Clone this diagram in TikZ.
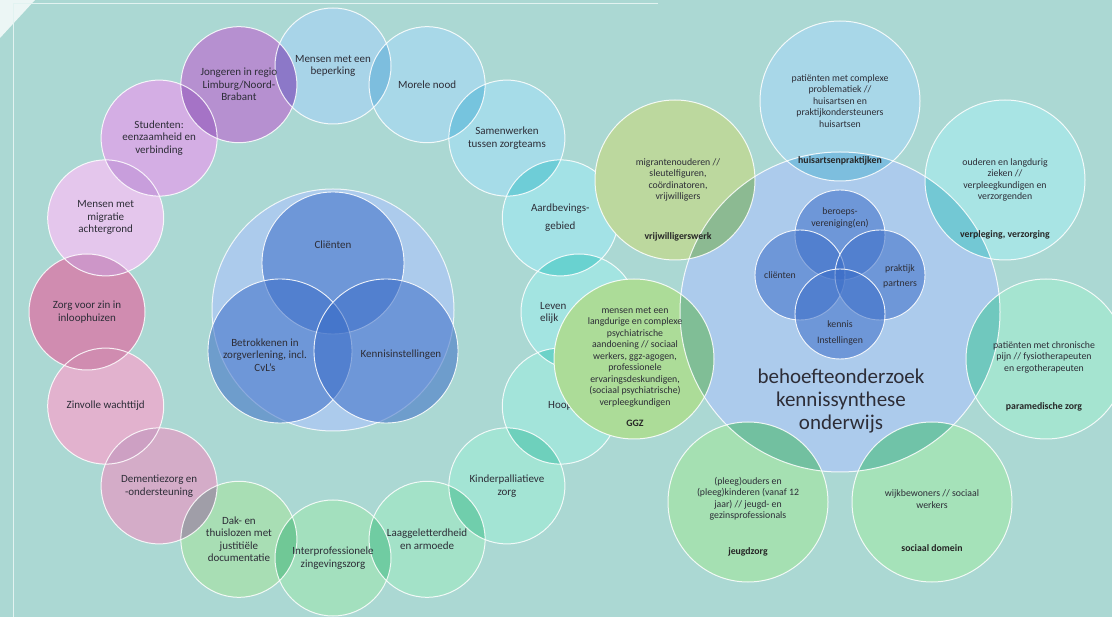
\documentclass[tikz,border=0pt]{standalone}
\usepackage{fontspec}
\setmainfont{Carlito}
\definecolor{bg}{RGB}{171,216,211}
\definecolor{corner}{RGB}{236,246,245}
\definecolor{frameline}{RGB}{226,243,241}
\definecolor{txt}{RGB}{45,45,55}
\definecolor{cMens}{RGB}{168,212,232}
\definecolor{cMor}{RGB}{168,216,232}
\definecolor{cSam}{RGB}{166,220,232}
\definecolor{cAard}{RGB}{163,226,230}
\definecolor{cLev}{RGB}{163,228,225}
\definecolor{cHoop}{RGB}{163,228,218}
\definecolor{cKind}{RGB}{163,228,212}
\definecolor{cLaag}{RGB}{163,226,200}
\definecolor{cInt}{RGB}{163,224,190}
\definecolor{cDak}{RGB}{168,222,180}
\definecolor{cDem}{RGB}{212,172,200}
\definecolor{cZinv}{RGB}{226,178,206}
\definecolor{cZorg}{RGB}{208,140,176}
\definecolor{cMigr}{RGB}{228,198,236}
\definecolor{cStud}{RGB}{212,174,228}
\definecolor{cJong}{RGB}{182,144,208}
% ring lens colours
\definecolor{lA}{RGB}{125,190,222}
\definecolor{lB}{RGB}{118,196,222}
\definecolor{lC}{RGB}{110,205,215}
\definecolor{lD}{RGB}{105,210,208}
\definecolor{lE}{RGB}{108,210,200}
\definecolor{lF}{RGB}{110,208,188}
\definecolor{lG}{RGB}{112,206,172}
\definecolor{lH}{RGB}{112,204,162}
\definecolor{lI}{RGB}{112,200,150}
\definecolor{lJ}{RGB}{160,158,168}
\definecolor{lK}{RGB}{205,160,195}
\definecolor{lM}{RGB}{205,150,200}
\definecolor{lN}{RGB}{200,158,220}
\definecolor{lO}{RGB}{165,115,198}
\definecolor{lP}{RGB}{140,120,200}
% right cluster
\definecolor{cBig}{RGB}{172,203,236}
\definecolor{cVenn}{RGB}{60,110,200}
\definecolor{cHuis}{RGB}{168,215,232}
\definecolor{cVrij}{RGB}{188,216,158}
\definecolor{cGGZ}{RGB}{172,220,152}
\definecolor{cJeugd}{RGB}{165,224,178}
\definecolor{cSoc}{RGB}{165,226,185}
\definecolor{cPara}{RGB}{165,228,208}
\definecolor{cVerp}{RGB}{168,228,228}
\definecolor{qHuis}{RGB}{125,190,222}
\definecolor{qVrij}{RGB}{140,186,146}
\definecolor{qGGZ}{RGB}{128,190,150}
\definecolor{qJeugd}{RGB}{114,192,160}
\definecolor{qSoc}{RGB}{112,195,168}
\definecolor{qPara}{RGB}{112,200,190}
\definecolor{qVerp}{RGB}{115,200,212}
\newcommand{\lensfill}[5]{\begin{scope}\clip (#1) circle (#2); \fill[#5] (#3) circle (#4);\end{scope}}
\tikzset{
  ringdisc/.style={circle, inner sep=0pt, minimum size=116pt, draw=none},
  outerdisc/.style={circle, inner sep=0pt, minimum size=160pt, draw=none},
  venndisc/.style={circle, inner sep=0pt, minimum size=#1, fill=cVenn, fill opacity=0.55, draw=white, draw opacity=0.9, line width=0.9pt},
  whiteedge/.style={draw=white, line width=1pt, opacity=0.85},
  ringlabel/.style={font=\fontsize{11}{12.5}\selectfont, text=txt, align=center, inner sep=0pt},
  smalllabel/.style={font=\fontsize{9.8}{11.5}\selectfont, text=txt, align=center, inner sep=0pt},
  boldlabel/.style={font=\fontsize{9.8}{11.5}\selectfont\bfseries, text=black!85, inner sep=0pt},
  biglabel/.style={font=\fontsize{21}{23}\selectfont, text=txt, align=center, inner sep=0pt},
}
\begin{document}
\begin{tikzpicture}[x=1pt,y=-1pt]
\useasboundingbox (0,0) rectangle (1112,617);
\fill[bg] (0,0) rectangle (1112,617);
\fill[corner] (0,0) -- (35,0) -- (0,38) -- cycle;
\draw[frameline, line width=1.1pt] (13.5,620) -- (13.5,3.5) -- (658,3.5);

% ---------- left ring ----------
\node[ringdisc, fill=cMens] (r1)  at (333,66) {};
\node[ringdisc, fill=cMor]  (r2)  at (427.1,84.7) {};
\node[ringdisc, fill=cSam]  (r3)  at (506.9,138.1) {};
\node[ringdisc, fill=cAard] (r4)  at (560.3,217.9) {};
\node[ringdisc, fill=cLev]  (r5)  at (579,312) {};
\node[ringdisc, fill=cHoop] (r6)  at (560.3,406.1) {};
\node[ringdisc, fill=cKind] (r7)  at (506.9,485.9) {};
\node[ringdisc, fill=cLaag] (r8)  at (427.1,539.3) {};
\node[ringdisc, fill=cInt]  (r9)  at (333,558) {};
\node[ringdisc, fill=cDak]  (r10) at (238.9,539.3) {};
\node[ringdisc, fill=cDem]  (r11) at (159.1,485.9) {};
\node[ringdisc, fill=cZinv] (r12) at (105.7,406.1) {};
\node[ringdisc, fill=cZorg] (r13) at (87,312) {};
\node[ringdisc, fill=cMigr] (r14) at (105.7,217.9) {};
\node[ringdisc, fill=cStud] (r15) at (159.1,138.1) {};
\node[ringdisc, fill=cJong] (r16) at (238.9,84.7) {};

\lensfill{r1.center}{58pt}{r2.center}{58pt}{lA}
\lensfill{r2.center}{58pt}{r3.center}{58pt}{lB}
\lensfill{r3.center}{58pt}{r4.center}{58pt}{lC}
\lensfill{r4.center}{58pt}{r5.center}{58pt}{lD}
\lensfill{r5.center}{58pt}{r6.center}{58pt}{lE}
\lensfill{r6.center}{58pt}{r7.center}{58pt}{lF}
\lensfill{r7.center}{58pt}{r8.center}{58pt}{lG}
\lensfill{r8.center}{58pt}{r9.center}{58pt}{lH}
\lensfill{r9.center}{58pt}{r10.center}{58pt}{lI}
\lensfill{r10.center}{58pt}{r11.center}{58pt}{lJ}
\lensfill{r11.center}{58pt}{r12.center}{58pt}{lK}
\lensfill{r12.center}{58pt}{r13.center}{58pt}{cZorg}
\lensfill{r13.center}{58pt}{r14.center}{58pt}{lM}
\lensfill{r14.center}{58pt}{r15.center}{58pt}{lN}
\lensfill{r15.center}{58pt}{r16.center}{58pt}{lO}
\lensfill{r16.center}{58pt}{r1.center}{58pt}{lP}

\foreach \n in {r1,r2,r3,r4,r5,r6,r7,r8,r9,r10,r11,r12,r13,r14,r15,r16}
  \draw[whiteedge] (\n.center) circle (58pt);

\node[ringlabel] at (r1.center) {Mensen met een\\beperking};
\node[ringlabel] at (r2.center) {Morele nood};
\node[ringlabel] at (r3.center) {Samenwerken\\tussen zorgteams};
\node[ringlabel, font=\fontsize{11}{18}\selectfont] at (r4.center) {Aardbevings-\\gebied};
\node[ringlabel, anchor=west, align=left] at (540,313) {Leven\\elijk};
\node[ringlabel] at (r6.center) {Hoop};
\node[ringlabel] at (r7.center) {Kinderpalliatieve\\zorg};
\node[ringlabel] at (r8.center) {Laaggeletterdheid\\en armoede};
\node[ringlabel] at (r9.center) {Interprofessionele\\zingevingszorg};
\node[ringlabel] at (r10.center) {Dak- en\\thuislozen met\\justitiële\\documentatie};
\node[ringlabel] at (r11.center) {Dementiezorg en\\-ondersteuning};
\node[ringlabel] at (r12.center) {Zinvolle wachttijd};
\node[ringlabel] at (r13.center) {Zorg voor zin in\\inloophuizen};
\node[ringlabel] at (r14.center) {Mensen met\\migratie\\achtergrond};
\node[ringlabel] at (r15.center) {Studenten:\\eenzaamheid en\\verbinding};
\node[ringlabel] at (r16.center) {Jongeren in regio\\Limburg/Noord-\\Brabant};

% ---------- left Venn ----------
\node[circle, inner sep=0pt, minimum size=242pt, fill=cBig, draw=white, draw opacity=0.8, line width=1pt] (lv) at (333,310) {};
\node[venndisc=142pt] (lv1) at (333,263) {};
\node[venndisc=144pt] (lv2) at (280,351) {};
\node[venndisc=144pt] (lv3) at (386,351) {};
\node[ringlabel] at (333,245) {Cliënten};
\node[ringlabel] at (265,355) {Betrokkenen in\\zorgverlening, incl.\\CvL's};
\node[ringlabel] at (401,355) {Kennisinstellingen};

% ---------- right cluster ----------
\node[circle, inner sep=0pt, minimum size=320pt, fill=cBig] (big) at (840,312) {};
\node[outerdisc, fill=cHuis]  (o1) at (840,101) {};
\node[outerdisc, fill=cVrij]  (o2) at (675,180) {};
\node[outerdisc, fill=cGGZ]   (o3) at (634,359) {};
\node[outerdisc, fill=cJeugd] (o4) at (748,502) {};
\node[outerdisc, fill=cSoc]   (o5) at (932,502) {};
\node[outerdisc, fill=cPara]  (o6) at (1046,359) {};
\node[outerdisc, fill=cVerp]  (o7) at (1005,180) {};
\lensfill{big.center}{160pt}{o1.center}{80pt}{qHuis}
\lensfill{big.center}{160pt}{o2.center}{80pt}{qVrij}
\lensfill{big.center}{160pt}{o3.center}{80pt}{qGGZ}
\lensfill{big.center}{160pt}{o4.center}{80pt}{qJeugd}
\lensfill{big.center}{160pt}{o5.center}{80pt}{qSoc}
\lensfill{big.center}{160pt}{o6.center}{80pt}{qPara}
\lensfill{big.center}{160pt}{o7.center}{80pt}{qVerp}
\draw[whiteedge] (big.center) circle (160pt);
\foreach \n in {o1,o2,o3,o4,o5,o6,o7}
  \draw[whiteedge] (\n.center) circle (80pt);

% inner Venn
\node[venndisc=90pt] (iv1) at (840,235) {};
\node[venndisc=90pt] (iv2) at (800,275) {};
\node[venndisc=90pt] (iv3) at (880,275) {};
\node[venndisc=90pt] (iv4) at (840,314) {};
\node[smalllabel] at (840,218) {beroeps-\\vereniging(en)};
\node[smalllabel] at (780,275) {cliënten};
\node[smalllabel, font=\fontsize{9.8}{15}\selectfont] at (900,276) {praktijk\\partners};
\node[smalllabel, font=\fontsize{9.8}{16}\selectfont] at (840,333) {kennis\\Instellingen};

\node[biglabel] at (841,401) {behoefteonderzoek\\kennissynthese\\onderwijs};

% outer texts
\node[smalllabel] at (840,101) {patiënten met complexe\\problematiek //\\huisartsen en\\praktijkondersteuners\\huisartsen};
\node[boldlabel] at (840,161) {huisartsenpraktijken};
\node[smalllabel] at (678,180) {migrantenouderen //\\sleutelfiguren,\\coördinatoren,\\vrijwilligers};
\node[boldlabel] at (678,237) {vrijwilligerswerk};
\node[smalllabel] at (1005,180) {ouderen en langdurig\\zieken //\\verpleegkundigen en\\verzorgenden};
\node[boldlabel] at (1005,235) {verpleging, verzorging};
\node[smalllabel] at (635,357) {mensen met een\\langdurige en complexe\\psychiatrische\\aandoening // sociaal\\werkers, ggz-agogen,\\professionele\\ervaringsdeskundigen,\\(sociaal psychiatrische)\\verpleegkundigen};
\node[boldlabel] at (635,423) {GGZ};
\node[smalllabel] at (1044,357) {patiënten met chronische\\pijn // fysiotherapeuten\\en ergotherapeuten};
\node[boldlabel] at (1044,407) {paramedische zorg};
\node[smalllabel] at (748,499) {(pleeg)ouders en\\(pleeg)kinderen (vanaf 12\\jaar) // jeugd- en\\gezinsprofessionals};
\node[boldlabel] at (748,552) {jeugdzorg};
\node[smalllabel] at (932,499) {wijkbewoners // sociaal\\werkers};
\node[boldlabel] at (932,548) {sociaal domein};
\end{tikzpicture}
\end{document}
